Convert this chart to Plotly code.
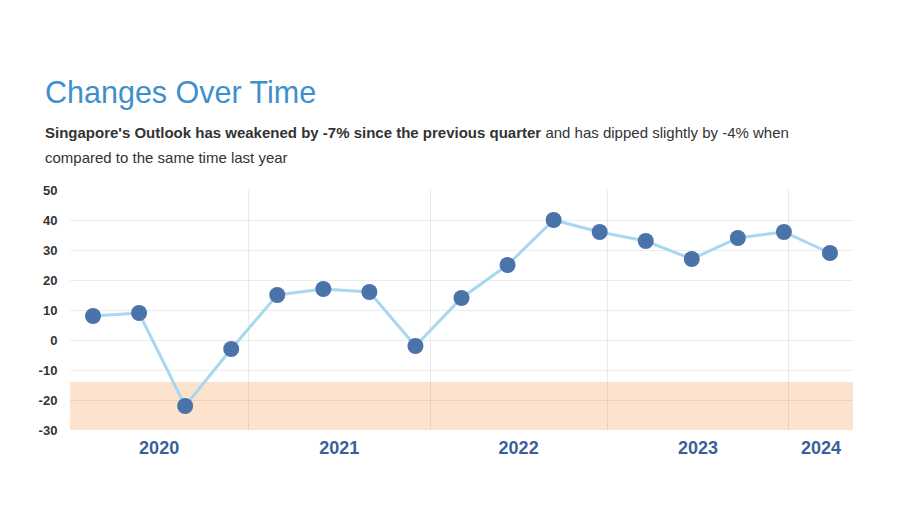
import plotly.graph_objects as go

# ---- data ----
quarters = ["2020 Q1", "2020 Q2", "2020 Q3", "2020 Q4",
            "2021 Q1", "2021 Q2", "2021 Q3", "2021 Q4",
            "2022 Q1", "2022 Q2", "2022 Q3", "2022 Q4",
            "2023 Q1", "2023 Q2", "2023 Q3", "2023 Q4",
            "2024 Q1"]
outlook = [8, 9, -22, -3, 15, 17, 16, -2, 14, 25, 40, 36, 33, 27, 34, 36, 29]
year_labels = ["2020", "2021", "2022", "2023", "2024"]
# year boundaries, in quarter-index units (as placed on the reference axis)
year_boundaries = [3.37, 7.32, 11.16, 15.11]
y_ticks = [50, 40, 30, 20, 10, 0, -10, -20, -30]
band_low, band_high = -30, -14

x_idx = list(range(len(quarters)))
x_min, x_max = -0.5, len(quarters) - 0.5
edges = [x_min] + year_boundaries + [x_max]
label_pos = [(edges[i] + edges[i + 1]) / 2 for i in range(len(year_labels))]

FONT = "Liberation Sans, Arial, sans-serif"
W, H = 892, 499   # page body has an 8px margin

fig = go.Figure()
fig.add_trace(go.Scatter(
    x=x_idx, y=outlook, mode="lines+markers",
    text=quarters, hovertemplate="%{text}: %{y}<extra></extra>",
    line=dict(color="#a8d8f0", width=3),
    marker=dict(color="#4a73aa", size=16),
    showlegend=False,
))

fig.add_shape(type="rect", xref="paper", yref="y", x0=0, x1=1,
              y0=band_low, y1=band_high, fillcolor="#fde3cd",
              line=dict(width=0), layer="below")

fig.update_layout(
    width=W, height=H,
    margin=dict(l=62, r=47, t=182, b=77),
    paper_bgcolor="white", plot_bgcolor="white",
    font=dict(family=FONT),
    title=dict(text="Changes Over Time", x=37 / W, xanchor="left",
               xref="container", y=1 - 84 / H, yanchor="middle",
               yref="container",
               font=dict(family=FONT, size=30.5, color="#3e90cc")),
    xaxis=dict(
        range=[x_min, x_max], tickmode="array", tickvals=label_pos,
        ticktext=year_labels, showgrid=False, zeroline=False,
        ticks="outside", ticklen=1, tickcolor="rgba(0,0,0,0)",
        tickfont=dict(family=FONT, size=18, color="#3a5f9a", weight="bold"),
        minor=dict(tickmode="array", tickvals=year_boundaries, showgrid=True,
                   gridcolor="rgba(0,0,0,0.08)", gridwidth=1, ticks=""),
        fixedrange=True,
    ),
    yaxis=dict(
        range=[-30, 50], tickmode="array", tickvals=y_ticks,
        ticktext=[str(v) for v in y_ticks],
        showgrid=True, gridcolor="rgba(0,0,0,0.07)", gridwidth=1,
        zeroline=False, ticks="outside", ticklen=9,
        tickcolor="rgba(0,0,0,0)",
        tickfont=dict(family=FONT, size=13, color="#333333", weight="bold"),
        fixedrange=True,
    ),
)

fig.add_annotation(
    text="<b>Singapore's Outlook has weakened by -7% since the previous quarter</b>"
         " and has dipped slightly by -4% when",
    xref="paper", yref="paper", x=(43 - 70) / 783, y=1 + (190 - 133) / 240,
    xanchor="left", yanchor="middle", showarrow=False,
    font=dict(family=FONT, size=15, color="#333333"))
fig.add_annotation(
    text="compared to the same time last year",
    xref="paper", yref="paper", x=(43 - 70) / 783, y=1 + (190 - 157) / 240,
    xanchor="left", yanchor="middle", showarrow=False,
    font=dict(family=FONT, size=15, color="#333333"))

fig.write_html("out.html")
